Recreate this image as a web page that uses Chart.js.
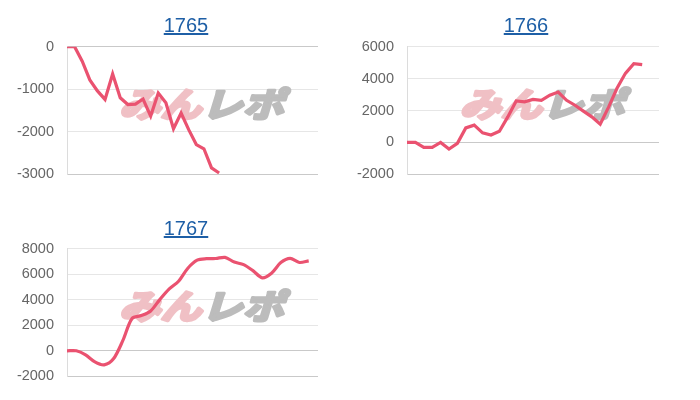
<!DOCTYPE html>
<html>
<head>
<meta charset="utf-8">
<script src="https://cdn.jsdelivr.net/npm/chart.js@4/dist/chart.umd.min.js"></script>
<style>
  body { margin: 0; background: #fff; width: 700px; height: 400px; position: relative; overflow: hidden; }
  .ttl { position: absolute; width: 100px; text-align: center; font: 20px Arial, "Liberation Sans", sans-serif; line-height: 20px; z-index: 2; }
  .ttl a { color: #1e5fa6; text-decoration: underline; }
  .box { position: absolute; z-index: 1; }
</style>
</head>
<body>
<div class="box" style="left:0px; top:25px; width:318px; height:171px;"><canvas id="c1765"></canvas></div>
<div class="box" style="left:340px; top:25px; width:319px; height:171px;"><canvas id="c1766"></canvas></div>
<div class="box" style="left:0px; top:227px; width:318px; height:171px;"><canvas id="c1767"></canvas></div>

<div class="ttl" style="left:136px; top:15px;"><a href="#">1765</a></div>
<div class="ttl" style="left:476px; top:15px;"><a href="#">1766</a></div>
<div class="ttl" style="left:136px; top:218px;"><a href="#">1767</a></div>

<script>
// x labels (not shown on the charts)
const labels1765 = ['1','2','3','4','5','6','7','8','9','10','11','12','13','14','15','16','17',
  '18','19','20','21','22','23','24','25','26','27','28','29','30','31','32','33','34'];
const labels1766 = ['1','2','3','4','5','6','7','8','9','10','11','12','13','14','15','16',
  '17','18','19','20','21','22','23','24','25','26','27','28','29','30','31'];
const labels1767 = ['1','2','3','4','5','6','7','8','9','10','11','12','13','14',
  '15','16','17','18','19','20','21','22','23','24','25','26','27','28'];

// series
const values1765 = [0, 0, -340, -780, -1040, -1240, -640, -1200, -1360, -1350, -1230, -1630,
  -1090, -1320, -1930, -1560, -1950, -2300, -2400, -2850, -2970];
const values1766 = [0, 0, -310, -310, 0, -420, -60, 910, 1080, 600, 460, 700, 1600, 2600, 2540,
  2690, 2640, 2960, 3160, 2640, 2330, 1960, 1600, 1140, 2210, 3390, 4330, 4940, 4880];
const values1767 = [0, 0, -320, -870, -1100, -630, 790, 2530, 2760, 3120, 4030, 4850, 5450, 6470,
  7100, 7220, 7230, 7320, 6950, 6750, 6280, 5720, 6080, 6910, 7240, 6920, 7050];

// y axis ranges [min, max, step]
const range1765 = [-3000, 0, 1000];
const range1766 = [-2000, 6000, 2000];
const range1767 = [-2000, 8000, 2000];

Chart.defaults.font.family = 'Arial, "Liberation Sans", sans-serif';
Chart.defaults.font.size = 14.5;
Chart.defaults.color = '#666';

// faint site logo behind the line
const watermark = {
  id: 'watermark',
  beforeDatasetsDraw(chart) {
    const ctx = chart.ctx, a = chart.chartArea;
    const cx = (a.left + a.right) / 2 + 9;
    const cy = (a.top + a.bottom) / 2 - 6;
    ctx.save();
    ctx.font = 'italic bold 34px "Noto Sans CJK JP"';
    ctx.textBaseline = 'middle';
    ctx.lineJoin = 'round';
    ctx.lineWidth = 3;
    const w1 = ctx.measureText('みん').width;
    const w2 = ctx.measureText('レポ').width;
    const sx = 165 / (w1 + w2);
    ctx.translate(cx, cy);
    ctx.scale(sx, 1);
    const x = -(w1 + w2) / 2;
    ctx.fillStyle = ctx.strokeStyle = 'rgb(240, 192, 197)';
    ctx.fillText('みん', x, 0);
    ctx.strokeText('みん', x, 0);
    ctx.fillStyle = ctx.strokeStyle = 'rgb(188, 188, 188)';
    ctx.fillText('レポ', x + w1, 0);
    ctx.strokeText('レポ', x + w1, 0);
    ctx.restore();
  }
};

function makeChart(id, labels, values, range, tension) {
  const min = range[0];
  return new Chart(document.getElementById(id), {
    type: 'line',
    data: {
      labels: labels,
      datasets: [{
        data: values,
        borderColor: '#ea5270',
        backgroundColor: '#ea5270',
        borderWidth: 3.2,
        pointRadius: 0,
        tension: tension,
        fill: false,
      }],
    },
    options: {
      responsive: true,
      maintainAspectRatio: false,
      animation: false,
      layout: { padding: 0 },
      plugins: {
        legend: { display: false },
        tooltip: { enabled: false },
      },
      scales: {
        x: { display: false },
        y: {
          min: range[0],
          max: range[1],
          ticks: { stepSize: range[2], padding: 13, callback: (v) => String(v) },
          grid: {
            drawTicks: false,
            color: (c) => (c.tick && (c.tick.value === 0 || c.tick.value === min)) ? '#c9c9c9' : '#e6e6e6',
          },
          border: { color: '#dcdcdc' },
          afterFit: (axis) => { axis.width = 67; },
        },
      },
    },
    plugins: [watermark],
  });
}

makeChart('c1765', labels1765, values1765, range1765, 0);
makeChart('c1766', labels1766, values1766, range1766, 0);
makeChart('c1767', labels1767, values1767, range1767, 0.3);
</script>
</body>
</html>
